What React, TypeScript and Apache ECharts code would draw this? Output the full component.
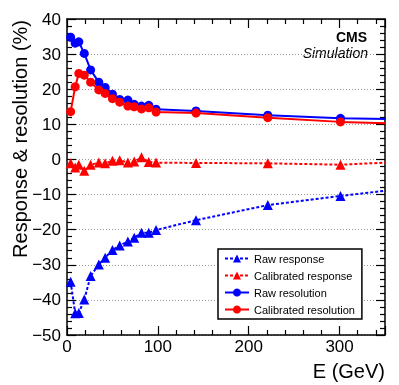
import React, { useEffect, useRef } from "react";
import * as echarts from "echarts";

// E (GeV) of each point (last point lies beyond the axis and is clipped)
const energies = [4, 9, 13, 19, 26, 35, 42, 50, 58, 67, 74, 82, 90, 98, 142, 221, 301, 400];
const rawResponse = [-34.8, -43.8, -43.7, -39.9, -33.2, -29.9, -28.0, -25.8, -24.5, -23.4, -22.3, -20.9, -20.9, -20.1, -17.3, -13.0, -10.4, -7.4];
const calibratedResponse = [-1.1, -2.3, -1.5, -3.2, -1.5, -0.9, -1.1, -0.4, -0.2, -0.9, -0.6, 0.6, -0.7, -0.9, -1.0, -1.1, -1.5, -0.3];
const rawResolution = [34.8, 33.1, 33.5, 30.2, 25.5, 22.0, 20.5, 18.6, 17.1, 16.9, 15.7, 15.2, 15.4, 14.3, 13.8, 12.6, 11.7, 11.3];
const calibratedResolution = [13.6, 20.7, 24.5, 24.0, 22.0, 19.8, 18.8, 17.3, 16.3, 15.2, 15.0, 14.4, 14.7, 13.5, 13.2, 11.9, 10.7, 9.9];

const seriesNames = ["Raw response", "Calibrated response", "Raw resolution", "Calibrated resolution"];
const xTitle = "E (GeV)";
const yTitle = "Response & resolution (%)";

const FONT = "'Liberation Sans', Arial, Helvetica, sans-serif";
const BLUE = "#0000ff";
const RED = "#ff0000";

export default function App() {
  const ref = useRef<HTMLDivElement>(null);
  useEffect(() => {
    const chart = echarts.init(ref.current!, null, { renderer: "svg" });
    const pair = (ys: number[]) => energies.map((e, i) => [e, ys[i]]);
    const axisLine = { show: true, onZero: false, lineStyle: { color: "#000", width: 1.5 } };
    const tick = { show: true, inside: true, length: 9, lineStyle: { color: "#000", width: 1.2 } };
    const minor = { show: true, splitNumber: 5, length: 5, lineStyle: { color: "#000", width: 1.2 } };
    const xBase = { type: "value", min: 0, max: 350, interval: 100, axisLine, axisTick: tick, minorTick: minor, splitLine: { show: false } };
    const yBase = { type: "value", min: -50, max: 40, interval: 10, axisLine, axisTick: tick, minorTick: minor };
    chart.setOption({
      animation: false,
      grid: { left: 67, top: 19, width: 318, height: 316, containLabel: false },
      xAxis: [
        {
          ...xBase,
          position: "bottom",
          axisLabel: { showMaxLabel: false, fontSize: 17, color: "#000", fontFamily: FONT, margin: 3 },
        },
        { ...xBase, position: "top", axisLabel: { show: false } },
      ],
      yAxis: [
        {
          ...yBase,
          position: "left",
          axisLabel: {
            fontSize: 17,
            color: "#000",
            fontFamily: FONT,
            margin: 6,
            formatter: (v: number) => String(v).replace("-", "\u2212"),
          },
          splitLine: { show: true, lineStyle: { color: "#999", width: 1, type: [1, 2] } },
        },
        { ...yBase, position: "right", axisLabel: { show: false }, splitLine: { show: false } },
      ],
      legend: {
        orient: "vertical",
        left: 218,
        top: 249,
        padding: [4, 7, 4, 6],
        itemGap: 6,
        itemWidth: 24,
        itemHeight: 10,
        borderColor: "#000",
        borderWidth: 1.5,
        backgroundColor: "#fff",
        textStyle: { fontSize: 11, color: "#000", fontFamily: FONT },
        data: seriesNames,
      },
      series: [
        {
          name: seriesNames[0],
          type: "line",
          data: pair(rawResponse),
          symbol: "triangle",
          symbolSize: 10,
          clip: true,
          itemStyle: { color: BLUE },
          lineStyle: { color: BLUE, width: 2, type: [3, 2] },
        },
        {
          name: seriesNames[1],
          type: "line",
          data: pair(calibratedResponse),
          symbol: "triangle",
          symbolSize: 10,
          clip: true,
          itemStyle: { color: RED },
          lineStyle: { color: RED, width: 2, type: [3, 2] },
        },
        {
          name: seriesNames[2],
          type: "line",
          data: pair(rawResolution),
          symbol: "circle",
          symbolSize: 9,
          clip: true,
          itemStyle: { color: BLUE },
          lineStyle: { color: BLUE, width: 2 },
        },
        {
          name: seriesNames[3],
          type: "line",
          data: pair(calibratedResolution),
          symbol: "circle",
          symbolSize: 9,
          clip: true,
          itemStyle: { color: RED },
          lineStyle: { color: RED, width: 2 },
        },
      ],
      graphic: [
        {
          type: "text",
          x: 367,
          y: 37,
          style: { text: "CMS", fontFamily: FONT, fontSize: 14, fontWeight: "bold", fill: "#000", align: "right", verticalAlign: "middle" },
        },
        {
          type: "text",
          x: 368,
          y: 53,
          style: { text: "Simulation", fontFamily: FONT, fontSize: 14, fontStyle: "italic", fill: "#000", align: "right", verticalAlign: "middle" },
        },
        {
          type: "text",
          x: 385,
          y: 371,
          style: { text: xTitle, fontFamily: FONT, fontSize: 20, fill: "#000", align: "right", verticalAlign: "middle" },
        },
        {
          type: "text",
          x: 20,
          y: 20,
          rotation: Math.PI / 2,
          style: { text: yTitle, fontFamily: FONT, fontSize: 20, fill: "#000", align: "right", verticalAlign: "middle" },
        },
      ],
    });
    return () => chart.dispose();
  }, []);
  return <div ref={ref} style={{ position: "fixed", left: 0, top: 0, width: 399, height: 385 }} />;
}
